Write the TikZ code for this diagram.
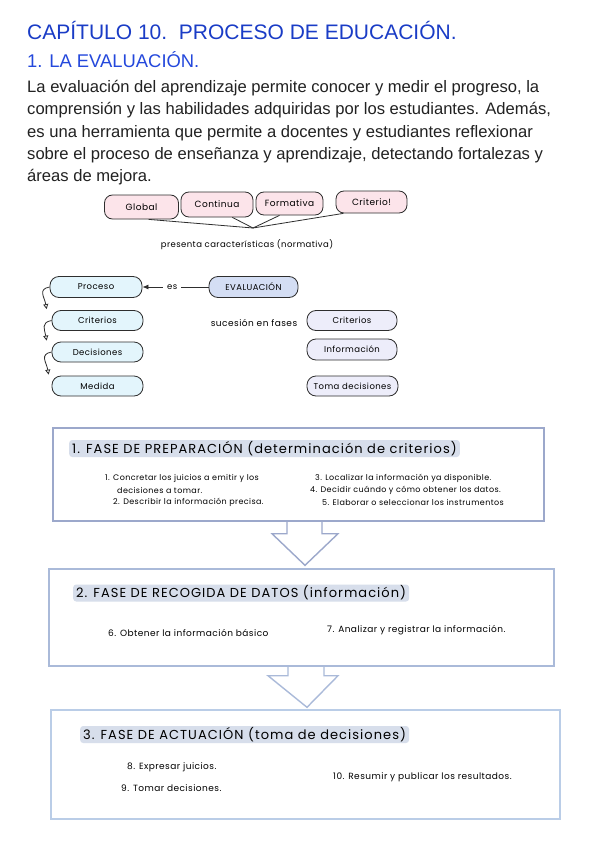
\documentclass[tikz,border=0pt]{standalone}
\usepackage{fontspec}
\setmainfont{Liberation Sans}
\newfontfamily\handfont{Poppins}[LetterSpace=5]
\newfontfamily\handwide{Poppins}[LetterSpace=8]
\usepackage{xcolor}
\usepackage{tikz}
\definecolor{docBlue}{HTML}{1A3CC6}
\definecolor{docBlueLight}{HTML}{2448DC}
\definecolor{docText}{HTML}{222222}
\definecolor{tagPink}{HTML}{FCE4EA}
\definecolor{tagSky}{HTML}{E3F5FC}
\definecolor{tagLilac}{HTML}{EDEDFA}
\definecolor{tagEval}{HTML}{D4DEF4}
\definecolor{tagLine}{HTML}{2E2E2E}
\definecolor{faseHi}{HTML}{D7DEEB}
\definecolor{faseOne}{HTML}{9CA8CB}
\definecolor{faseTwo}{HTML}{AABAD9}
\definecolor{faseThree}{HTML}{BACDE7}
\usetikzlibrary{arrows.meta,calc}

\begin{document}
\begin{tikzpicture}[
  x=1pt, y=1pt,
  every node/.style={inner sep=0pt},
  body/.style={anchor=base west, font=\fontsize{16.6}{20}\selectfont, text=docText},
  hand/.style={font=\handfont\fontsize{8.5}{10}\selectfont, text=black},
  tag/.style={draw=tagLine, line width=0.8pt, rounded corners=9pt, minimum height=21pt, font=\handfont\fontsize{8.5}{10}\selectfont},
  pinktag/.style={tag, fill=tagPink, rounded corners=8pt, font=\handfont\fontsize{9}{10}\selectfont},
  skytag/.style={tag, fill=tagSky, minimum width=91pt, minimum height=20pt},
  lilactag/.style={tag, fill=tagLilac, minimum width=90pt, minimum height=20pt},
  linkline/.style={line width=0.8pt, tagLine},
  seq/.style={-{Triangle[open, length=5pt, width=5pt]}, line width=0.8pt, tagLine},
  fasebox/.style={line width=1.4pt, fill=white},
  fasetitle/.style={anchor=west, fill=faseHi, rounded corners=3pt, inner xsep=3pt, minimum height=17pt, font=\handwide\fontsize{13}{15}\selectfont},
  item/.style={hand, anchor=west, font=\handfont\fontsize{8}{10}\selectfont},
  bigitem/.style={hand, anchor=west, font=\handfont\fontsize{9}{10}\selectfont},
  bigarrow/.style={line width=1.4pt, line join=miter}
]
\useasboundingbox[fill=white] (0,0) rectangle (600,-848);

% Heading and introduction
\node[anchor=base west, font=\fontsize{21}{24}\selectfont, text=docBlue] (chapter) at (27,-39.5) {CAPÍTULO 10.\ \ PROCESO DE EDUCACIÓN.};
\node[anchor=base west, font=\fontsize{18.4}{20}\selectfont, text=docBlueLight] (section) at (27,-68) {1. LA EVALUACIÓN.};
\node[body] (intro1) at (27,-92.7) {La evaluación del aprendizaje permite conocer y medir el progreso, la};
\node[body] (intro2) at (27,-115) {comprensión y las habilidades adquiridas por los estudiantes. Además,};
\node[body] (intro3) at (27,-137.2) {es una herramienta que permite a docentes y estudiantes reflexionar};
\node[body] (intro4) at (27,-159.5) {sobre el proceso de enseñanza y aprendizaje, detectando fortalezas y};
\node[body] (intro5) at (27,-181.7) {áreas de mejora.};

% Characteristics
\node[pinktag, minimum width=74pt, minimum height=24pt] (global) at (141.5,-207) {Global};
\node[pinktag, minimum width=72pt, minimum height=25pt] (continua) at (217,-204.5) {Continua};
\node[pinktag, minimum width=67pt, minimum height=23pt] (formativa) at (289.5,-203.5) {Formativa};
\node[pinktag, minimum width=71pt, minimum height=22pt] (criterio) at (371.5,-202) {Criterio!};
\coordinate (hub) at (253,-228);
\draw[linkline] (global.-60) -- (hub);
\draw[linkline] (continua.-40) -- (hub);
\draw[linkline] (formativa.-130) -- (hub);
\draw[linkline] (criterio.-158) -- (hub);
\node[hand] (presenta) at (247,-245) {presenta características (normativa)};

% Evaluation concept map
\node[tag, fill=tagEval, minimum width=89pt] (evaluacion) at (253.5,-287) {EVALUACIÓN};
\node[skytag, minimum width=92pt, minimum height=21pt] (proceso) at (96,-287) {Proceso};
\node[skytag] (criterios) at (97.5,-320.5) {Criterios};
\node[skytag] (decisiones) at (97.5,-352) {Decisiones};
\node[skytag] (medida) at (97.5,-386) {Medida};
\draw[-{Latex[length=6pt, width=5pt]}, linkline] (evaluacion.west) -- node[hand, fill=white, inner xsep=4pt, pos=0.55] {es} (proceso.east);
\draw[seq] (proceso.west) to[out=190, in=100, looseness=1.4] ($(criterios.north west)+(-5,1)$);
\draw[seq] (criterios.west) to[out=190, in=100, looseness=1.4] ($(decisiones.north west)+(-5,1)$);
\draw[seq] (decisiones.west) to[out=190, in=100, looseness=1.4] ($(medida.north west)+(-3,1)$);

\node[hand, font=\handfont\fontsize{9}{10}\selectfont] (sucesion) at (254,-323) {sucesión en fases};
\node[lilactag] (fcriterios) at (352,-320.5) {Criterios};
\node[lilactag, minimum height=21pt] (finformacion) at (352,-349.5) {Información};
\node[lilactag, minimum width=91pt] (ftoma) at (352.5,-386) {Toma decisiones};

% Phases
\node[fasebox, draw=faseOne, minimum width=491pt, minimum height=93pt] (fase1) at (298.5,-474.5) {};
\node[fasebox, draw=faseTwo, minimum width=505pt, minimum height=97pt] (fase2) at (301.5,-617.5) {};
\node[fasebox, draw=faseThree, minimum width=509pt, minimum height=109pt] (fase3) at (305.5,-764.5) {};

\draw[bigarrow, draw=faseOne] ($(fase1.south)+(-11.5,0)$) -- ++(0,-12) -- ++(-15,0) -- ($(fase2.north)+(3.5,3)$) -- ($(fase1.south)+(39.5,-12)$) -- ++(-16,0) -- ++(0,12);
\draw[bigarrow, draw=faseTwo] ($(fase2.south)+(-13.5,0)$) -- ++(0,-9) -- ++(-20,0) -- ($(fase3.north)+(1.5,2)$) -- ($(fase2.south)+(36.5,-9)$) -- ++(-14,0) -- ++(0,9);

\node[fasetitle] (titulo1) at (69,-448.5) {1. FASE DE PREPARACIÓN (determinación de criterios)};
\node[item] (paso1) at (105,-478) {1. Concretar los juicios a emitir y los};
\node[item] (paso1b) at (117,-490) {decisiones a tomar.};
\node[item] (paso2) at (113,-502) {2. Describir la información precisa.};
\node[item] (paso3) at (315,-478) {3. Localizar la información ya disponible.};
\node[item] (paso4) at (310,-490) {4. Decidir cuándo y cómo obtener los datos.};
\node[item] (paso5) at (322,-502) {5. Elaborar o seleccionar los instrumentos};

\node[fasetitle] (titulo2) at (73,-593) {2. FASE DE RECOGIDA DE DATOS (información)};
\node[bigitem] (paso6) at (108,-633) {6. Obtener la información básico};
\node[bigitem] (paso7) at (327,-630) {7. Analizar y registrar la información.};

\node[fasetitle] (titulo3) at (80,-734.5) {3. FASE DE ACTUACIÓN (toma de decisiones)};
\node[bigitem] (paso8) at (127,-767) {8. Expresar juicios.};
\node[bigitem] (paso9) at (121,-788) {9. Tomar decisiones.};
\node[bigitem] (paso10) at (333,-777) {10. Resumir y publicar los resultados.};

\end{tikzpicture}
\end{document}
